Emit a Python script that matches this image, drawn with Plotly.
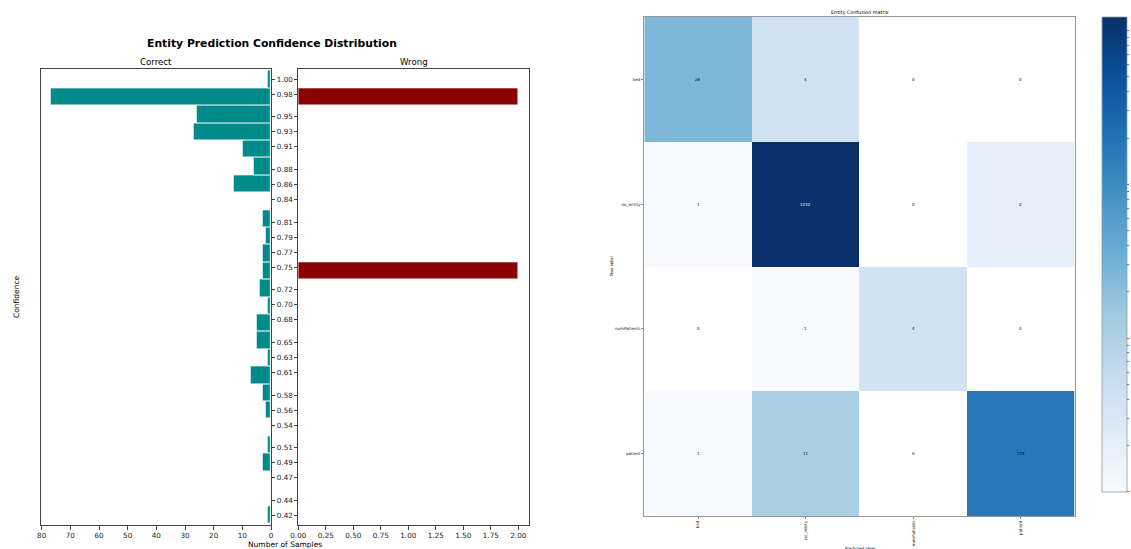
import math
import plotly.graph_objects as go

# ---- confidence histogram (entity predictions) ----
bin_centers = [0.4210, 0.4442, 0.4673, 0.4905, 0.5136, 0.5368, 0.5600, 0.5831,
               0.6063, 0.6294, 0.6526, 0.6758, 0.6989, 0.7221, 0.7452, 0.7684,
               0.7916, 0.8147, 0.8379, 0.8610, 0.8842, 0.9074, 0.9305, 0.9537,
               0.9768, 1.0000]
correct_counts = [1, 0, 0, 3, 1, 0, 2, 3, 7, 1, 5, 5, 1, 4, 3, 3,
                  2, 3, 0, 13, 6, 10, 27, 26, 77, 1]
wrong_counts = [0, 0, 0, 0, 0, 0, 0, 0, 0, 0, 0, 0, 0, 0, 2, 0,
                0, 0, 0, 0, 0, 0, 0, 0, 2, 0]
conf_tick_labels = ["0.42", "0.44", "0.47", "0.49", "0.51", "0.54", "0.56", "0.58",
                    "0.61", "0.63", "0.65", "0.68", "0.70", "0.72", "0.75", "0.77",
                    "0.79", "0.81", "0.84", "0.86", "0.88", "0.91", "0.93", "0.95",
                    "0.98", "1.00"]
BIN_WIDTH = 0.02316

# ---- entity confusion matrix ----
entity_labels = ["bed", "no_entity", "numPatients", "patient"]
confusion = [
    [26, 4, 0, 0],
    [1, 1232, 0, 2],
    [0, 1, 4, 0],
    [1, 11, 0, 174],
]

W, H = 1131, 549
FONT = "DejaVu Sans"


def fx(px):
    return px / W


def fy(py):
    return 1 - py / H


blues = ["rgb(247,251,255)", "rgb(222,235,247)", "rgb(198,219,239)",
         "rgb(158,202,225)", "rgb(107,174,214)", "rgb(66,146,198)",
         "rgb(33,113,181)", "rgb(8,81,156)", "rgb(8,48,107)"]
blues_scale = [[i / (len(blues) - 1), c] for i, c in enumerate(blues)]

fig = go.Figure()

fig.add_trace(go.Bar(
    y=bin_centers, x=correct_counts, orientation="h", width=BIN_WIDTH,
    marker=dict(color="#008b8b", line=dict(color="white", width=0.8)),
    xaxis="x", yaxis="y", showlegend=False,
))
fig.add_trace(go.Bar(
    y=bin_centers, x=wrong_counts, orientation="h", width=BIN_WIDTH,
    marker=dict(color="#8b0000", line=dict(color="white", width=0.8)),
    xaxis="x2", yaxis="y2", showlegend=False,
))

# log-scaled colour for the confusion matrix; empty cells stay blank
z_log = [[math.log10(v) if v > 0 else None for v in row] for row in confusion]
max_count = max(max(r) for r in confusion)
decade_vals, decade_text = [], []
for d in range(0, 4):
    for m in range(1, 10):
        v = m * 10 ** d
        if v > max_count:
            break
        decade_vals.append(math.log10(v))
        decade_text.append(f"10{'⁰¹²³'[d]}" if m == 1 else "")

fig.add_trace(go.Heatmap(
    z=z_log, x=entity_labels, y=entity_labels,
    colorscale=blues_scale, zmin=0, zmax=math.log10(max_count),
    xaxis="x3", yaxis="y3", hoverinfo="skip",
    colorbar=dict(
        x=fx(1101.7), xanchor="left", xpad=0,
        y=fy(491.7), yanchor="bottom", ypad=0,
        len=(491.7 - 16.7) / H, lenmode="fraction",
        thickness=25, thicknessmode="pixels",
        outlinewidth=0.8, outlinecolor="#999",
        tickvals=decade_vals, ticktext=decade_text,
        ticks="outside", ticklen=2, tickwidth=0.5, tickcolor="#666",
        tickfont=dict(size=4, color="#555", family=FONT),
    ),
))

annotations = []
thresh = max_count / 2
for i, row in enumerate(confusion):
    for j, v in enumerate(row):
        annotations.append(dict(
            x=entity_labels[j], y=entity_labels[i], xref="x3", yref="y3",
            text=str(v), showarrow=False, xanchor="center", yanchor="middle",
            font=dict(size=4, family=FONT, color="white" if v > thresh else "black"),
        ))


def label(px, py, text, size, angle=0):
    return dict(x=fx(px), y=fy(py), xref="paper", yref="paper", showarrow=False,
                xanchor="center", yanchor="middle", text=text, textangle=angle,
                font=dict(size=size, family=FONT, color="black"))


annotations += [
    label(272, 43, "<b>Entity Prediction Confidence Distribution</b>", 10.8),
    label(155.8, 61.5, "Correct", 8.6),
    label(413.8, 61.5, "Wrong", 8.6),
    label(285, 544, "Number of Samples", 7.5),
    label(16, 297, "Confidence", 7.5, -90),
    label(859.5, 13, "Entity Confusion matrix", 4.9),
    label(611.7, 266.5, "True label", 4.1, -90),
    label(859.5, 548, "Predicted label", 4.1),
]

axis_common = dict(
    showline=True, linecolor="#444", linewidth=0.8, mirror=True,
    ticks="outside", ticklen=3.5, tickwidth=0.8, tickcolor="#444",
    showgrid=False, zeroline=False,
    tickfont=dict(size=7.2, family=FONT, color="#222"),
)

y_dom = [fy(525.3), fy(69.3)]
conf_tick_vals = [float(t) for t in conf_tick_labels]

fig.update_layout(
    width=W, height=H, margin=dict(l=0, r=0, t=0, b=0, autoexpand=False),
    paper_bgcolor="white", plot_bgcolor="white",
    bargap=0, showlegend=False,
    font=dict(family=FONT),
    xaxis=dict(domain=[fx(40.7), fx(271)], range=[80.35, 0], anchor="y",
               tickvals=list(range(0, 81, 10)), **axis_common),
    yaxis=dict(domain=y_dom, range=[0.4067, 1.0133], anchor="x", side="right",
               tickvals=conf_tick_vals, ticktext=conf_tick_labels, **axis_common),
    xaxis2=dict(domain=[fx(298.3), fx(529.3)], range=[0, 2.1], anchor="y2",
                tickvals=[0, 0.25, 0.5, 0.75, 1.0, 1.25, 1.5, 1.75, 2.0],
                tickformat=".2f", **axis_common),
    yaxis2=dict(domain=y_dom, range=[0.4067, 1.0133], anchor="x2", side="left",
                tickvals=conf_tick_vals, showticklabels=False, **axis_common),
    xaxis3=dict(domain=[fx(644.3), fx(1074.7)], anchor="y3",
                showline=True, linecolor="#999", linewidth=1, mirror=True,
                ticks="outside", ticklen=2, tickwidth=0.5, tickcolor="#888",
                tickangle=-90, showgrid=False, zeroline=False,
                tickfont=dict(size=4.1, family=FONT, color="#222")),
    yaxis3=dict(domain=[fy(516), fy(17)], anchor="x3", autorange="reversed",
                showline=True, linecolor="#999", linewidth=1, mirror=True,
                ticks="outside", ticklen=2, tickwidth=0.5, tickcolor="#888",
                showgrid=False, zeroline=False,
                tickfont=dict(size=4.1, family=FONT, color="#222")),
    annotations=annotations,
)

fig.write_html("out.html")
